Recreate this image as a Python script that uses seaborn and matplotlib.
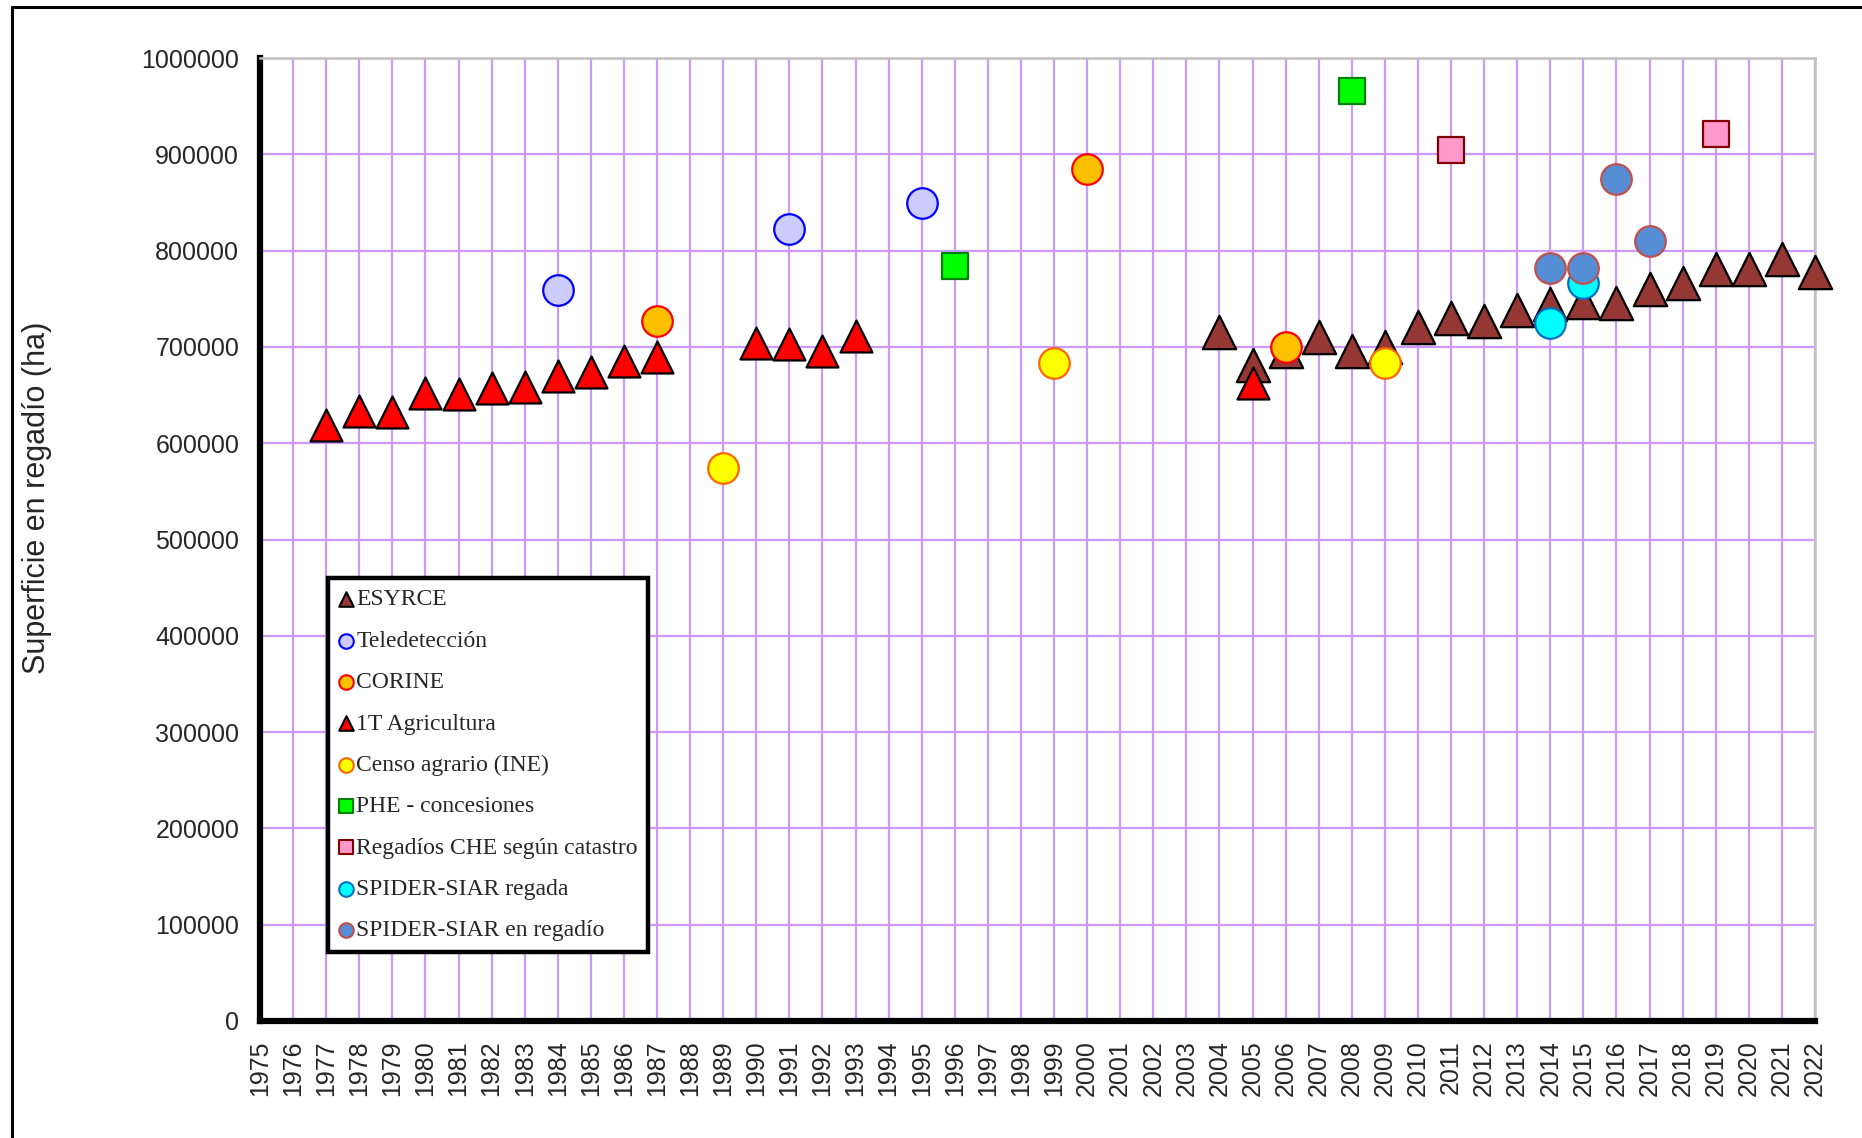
import matplotlib
matplotlib.use("Agg")
import matplotlib.pyplot as plt
import seaborn as sns
from matplotlib.lines import Line2D

# data (ha)
esyrce_years = [2004, 2005, 2006, 2007, 2008, 2009, 2010, 2011, 2012, 2013,
                2014, 2015, 2016, 2017, 2018, 2019, 2020, 2021, 2022]
esyrce_vals = [715000, 681000, 696000, 710000, 696000, 700000, 721000, 730000, 727000, 738000,
               745000, 747000, 746000, 760000, 766000, 781000, 781000, 791000, 778000]

tele_years = [1984, 1991, 1995]
tele_vals = [759000, 822000, 849000]

corine_years = [1987, 2000, 2006]
corine_vals = [727000, 885000, 700000]

agri_years = [1977, 1978, 1979, 1980, 1981, 1982, 1983, 1984, 1985, 1986,
              1987, 1990, 1991, 1992, 1993, 2005]
agri_vals = [619000, 633000, 632000, 652000, 651000, 657000, 658000, 670000, 674000, 685000,
             689000, 704000, 703000, 696000, 711000, 662000]

censo_years = [1989, 1999, 2009]
censo_vals = [574000, 683000, 683000]

phe_years = [1996, 2008]
phe_vals = [784000, 966000]

che_years = [2011, 2019]
che_vals = [904000, 921000]

siar_reg_years = [2014, 2015]
siar_reg_vals = [725000, 766000]

siar_en_years = [2014, 2015, 2016, 2017]
siar_en_vals = [782000, 782000, 874000, 810000]

year_ticks = list(range(1975, 2023))
y_ticks = [0, 100000, 200000, 300000, 400000, 500000, 600000, 700000, 800000, 900000, 1000000]

# (label, x, y, marker, size, fill, edge)
series = [
    ("ESYRCE", esyrce_years, esyrce_vals, "^", 24, "#953735", "black"),
    ("Teledetección", tele_years, tele_vals, "o", 22, "#CCCCFF", "#0000FF"),
    ("CORINE", corine_years, corine_vals, "o", 22, "#FFC000", "#FF0000"),
    ("1T Agricultura", agri_years, agri_vals, "^", 23, "#FF0000", "black"),
    ("Censo agrario (INE)", censo_years, censo_vals, "o", 22, "#FFFF00", "#FF6600"),
    ("PHE - concesiones", phe_years, phe_vals, "s", 19, "#00FF00", "#008000"),
    ("Regadíos CHE según catastro", che_years, che_vals, "s", 19, "#FF99CC", "#800000"),
    ("SPIDER-SIAR regada", siar_reg_years, siar_reg_vals, "o", 22, "#00FFFF", "#0070C0"),
    ("SPIDER-SIAR en regadío", siar_en_years, siar_en_vals, "o", 22, "#558ED5", "#C0504D"),
]

sns.set_style("white")
plt.rcParams['font.family'] = ['Liberation Sans', 'DejaVu Sans']

fig = plt.figure(figsize=(18.62, 11.38), dpi=100)
ax = fig.add_axes([260 / 1862, 1 - 1021 / 1138, 1555 / 1862, 963 / 1138])

for i, (label, xs, ys, mk, ms, fc, ec) in enumerate(series):
    sns.scatterplot(x=xs, y=ys, marker=mk, s=ms ** 2, color=fc, edgecolor=ec,
                    linewidth=1.6, label=label, ax=ax, clip_on=False, zorder=3 + i)

ax.set_xlim(1975, 2022)
ax.set_ylim(0, 1000000)
ax.set_xticks(year_ticks)
ax.set_xticklabels([str(y) for y in year_ticks], rotation=90, fontsize=18)
ax.set_yticks(y_ticks)
ax.set_yticklabels([str(v) for v in y_ticks], fontsize=18)
ax.grid(True, color="#CC99FF", linewidth=1.6)
ax.set_axisbelow(True)

for side in ["left", "bottom"]:
    ax.spines[side].set_color("black")
    ax.spines[side].set_linewidth(4.5)
for side in ["top", "right"]:
    ax.spines[side].set_color("#C0C0C0")
    ax.spines[side].set_linewidth(1.8)
ax.tick_params(axis="both", direction="out", length=6, width=4, color="black")
ax.tick_params(axis="y", pad=9)
ax.tick_params(axis="x", pad=8)

ax.set_ylabel("Superficie en regadío (ha)", fontsize=22, labelpad=0)
ax.yaxis.set_label_coords(-(260 - 52) / 1555, 0.543)

leg = ax.legend(loc="lower left", bbox_to_anchor=(0.0437, 0.0717), borderaxespad=0,
                frameon=True, fancybox=False, edgecolor="black", framealpha=1,
                prop={"family": "Liberation Serif", "size": 17},
                handlelength=0.6, handletextpad=0.15, labelspacing=0.84,
                borderpad=0.45)
leg.get_frame().set_linewidth(3.2)
leg.set_zorder(20)
for h in leg.legend_handles:
    h.set_sizes([110])
    h.set_linewidth(1.5)

# outer frame of the chart area
fig.add_artist(Line2D([12 / 1862, 1.0], [1 - 7 / 1138, 1 - 7 / 1138], color="black", linewidth=2.2))
fig.add_artist(Line2D([12 / 1862, 12 / 1862], [0.0, 1 - 7 / 1138], color="black", linewidth=2.2))

fig.savefig("out.png", dpi=100)
